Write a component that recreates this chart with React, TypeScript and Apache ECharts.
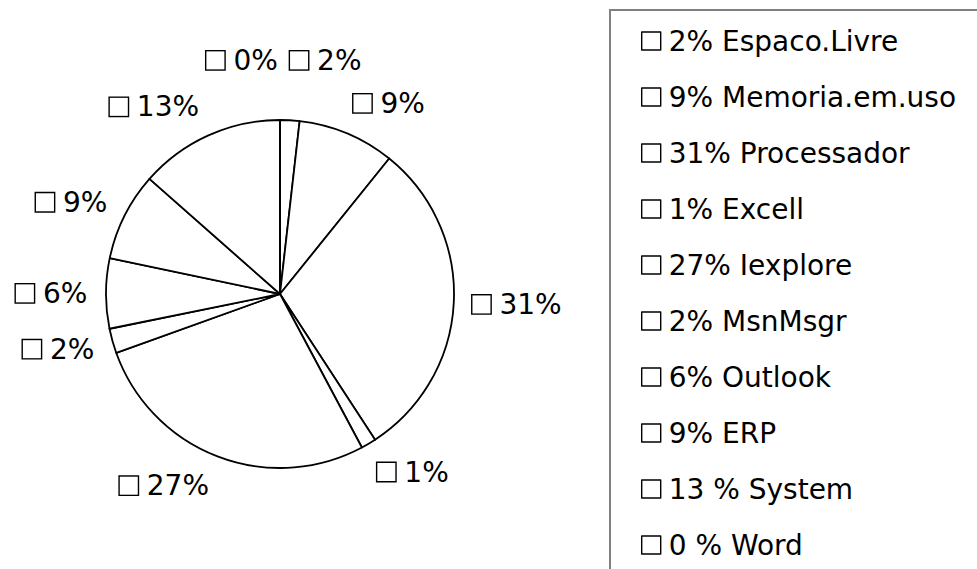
import React, { useEffect, useRef } from "react";
import * as echarts from "echarts";

const categories = [
  "2% Espaco.Livre",
  "9% Memoria.em.uso",
  "31% Processador",
  "1% Excell",
  "27% Iexplore",
  "2% MsnMsgr",
  "6% Outlook",
  "9% ERP",
  "13 % System",
  "0 % Word",
];
const values = [1.8, 9.0, 30.0, 1.4, 27.3, 2.3, 6.5, 8.2, 13.5, 0];
const labelTexts = ["2%", "9%", "31%", "1%", "27%", "2%", "6%", "9%", "13%", "0%"];

const CX = 280;
const CY = 294;
const RADIUS = 174;
const LABEL_R = 192;
const GAP = 15;
const FONT = "'DejaVu Sans', 'Liberation Sans', Arial, sans-serif";
const FS = 28;

type Box = { cx: number; cy: number; w: number; h: number; uy: number };

function resolveLabels(bases: Record<number, Box>): Record<number, Box> {
  const idx = Object.keys(bases).map(Number);
  const order = idx.slice().sort((a, b) => values[b] - values[a]);
  const pos: Record<number, Box> = {};
  const placed: number[] = [];
  const sameLevel = (a: number, b: number) => Math.abs(bases[a].cy - bases[b].cy) < 5;
  for (const i of order) {
    const b = { ...bases[i] };
    let changed = true;
    let guard = 0;
    while (changed && guard++ < 20) {
      changed = false;
      for (const j of placed) {
        if (sameLevel(i, j)) continue;
        const o = pos[j];
        const hit =
          Math.abs(b.cx - o.cx) < (b.w + o.w) / 2 + GAP &&
          Math.abs(b.cy - o.cy) < (b.h + o.h) / 2 + GAP;
        if (hit) {
          b.cy = b.uy < 0 ? o.cy - (b.h + o.h) / 2 - GAP : o.cy + (b.h + o.h) / 2 + GAP;
          changed = true;
        }
      }
    }
    pos[i] = b;
    placed.push(i);
  }
  // labels that sit side by side on the same level move together
  for (const i of idx) {
    for (const j of idx) {
      if (i >= j || !sameLevel(i, j)) continue;
      const a = bases[i];
      const c = bases[j];
      const hGap = Math.abs(a.cx - c.cx) - (a.w + c.w) / 2;
      if (hGap < GAP) {
        const y = a.uy < 0 ? Math.min(pos[i].cy, pos[j].cy) : Math.max(pos[i].cy, pos[j].cy);
        pos[i].cy = y;
        pos[j].cy = y;
      }
    }
  }
  return pos;
}

export default function App() {
  const ref = useRef<HTMLDivElement>(null);
  useEffect(() => {
    if (!ref.current) return;
    const chart = echarts.init(ref.current, null, { renderer: "svg" });
    const bases: Record<number, Box> = {};
    let finals: Record<number, Box> | null = null;

    const labelLayout = (params: any) => {
      const i = params.dataIndex;
      if (finals && finals[i]) {
        return { x: finals[i].cx, y: finals[i].cy, align: "center", verticalAlign: "middle" };
      }
      const r = params.labelRect;
      const lx = r.x + r.width / 2;
      const ly = r.y + r.height / 2;
      const dx = lx - CX;
      const dy = ly - CY;
      const len = Math.hypot(dx, dy) || 1;
      const ux = dx / len;
      const uy = dy / len;
      const sx = ux > 1e-3 ? 1 : -1;
      const cx = CX + LABEL_R * ux + sx * (r.width / 2);
      const cy = CY + LABEL_R * uy + (r.height / 2) * uy;
      bases[i] = { cx, cy, w: r.width, h: r.height, uy };
      return { x: cx, y: cy, align: "center", verticalAlign: "middle" };
    };

    const option = {
      animation: false,
      backgroundColor: "#fff",
      graphic: [
        {
          type: "rect",
          z: -1,
          shape: { x: 610, y: 10, width: 420, height: 620 },
          style: { fill: "none", stroke: "#808080", lineWidth: 2 },
        },
      ],
      legend: {
        orient: "vertical",
        left: 641,
        top: 26,
        padding: 0,
        icon: "rect",
        itemWidth: 19,
        itemHeight: 18,
        itemGap: 26,
        itemStyle: { color: "#fff", borderColor: "#000", borderWidth: 1.4 },
        textStyle: { fontSize: FS, fontFamily: FONT, color: "#000", lineHeight: 30, padding: [0, 0, 0, 3] },
        data: categories,
      },
      series: [
        {
          type: "pie",
          center: [CX, CY],
          radius: RADIUS,
          startAngle: 90,
          clockwise: true,
          avoidLabelOverlap: false,
          silent: true,
          itemStyle: { color: "#fff", borderColor: "#000", borderWidth: 1.8 },
          label: {
            show: true,
            position: "inside",
            formatter: (p: any) => `{box|}{txt|${labelTexts[p.dataIndex]}}`,
            rich: {
              box: { width: 18, height: 18, borderColor: "#000", borderWidth: 1.4, backgroundColor: "#fff" },
              txt: { fontSize: FS, fontFamily: FONT, color: "#000", padding: [0, 0, 0, 9] },
            },
          },
          labelLine: { show: false },
          labelLayout,
          data: categories.map((name, i) => ({ name, value: values[i] })),
        },
      ],
    };
    chart.setOption(option);
    finals = resolveLabels(bases);
    chart.setOption(option, true);
    return () => chart.dispose();
  }, []);
  return (
    <div
      ref={ref}
      style={{ position: "absolute", left: 0, top: 0, width: 977, height: 569, background: "#fff" }}
    />
  );
}
